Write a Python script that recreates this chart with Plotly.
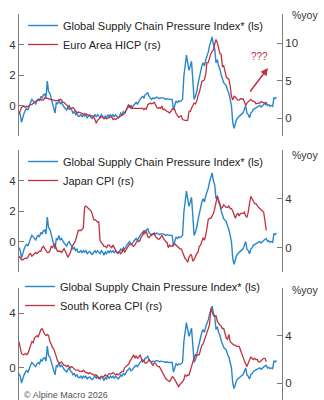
import pandas as pd
import plotly.graph_objects as go

# ---------------- data (monthly) ----------------
gscpi_start = "2010-01-01"   # GSCPI, advanced (plotted from Jan 2010)
gscpi = [
    -0.4, -0.6, -1.1, -0.7, -0.5, -0.3, -0.2, -0.3, 0.0, 0.2, 0.4, 0.3,
    0.2, 0.1, 0.3, 0.4, 0.3, 0.6, 0.5, 0.7, 0.75, 0.5, 1.6, 0.9,
    0.8, 0.5, 0.2, -0.1, -0.5, 0.2, 0.1, 0.4, 0.1, 0.2, 0.0, -0.1,
    -0.2, -0.3, -0.1, 0.0, -0.2, -0.3, -0.5, -0.4, -0.6, -0.5, -0.7, -0.7,
    -0.6, -0.75, -0.6, -0.7, -0.6, -0.8, -0.7, -0.65, -0.8, -0.85, -0.7, -0.6,
    -0.75, -0.6, -0.7, -0.8, -0.6, -0.7, -0.9, -0.7, -0.8, -0.6, -0.75, -0.6,
    -0.7, -0.6, -0.75, -0.6, -0.7, -0.8, -0.7, -0.5, -0.6, -0.4, -0.5, -0.3,
    -0.2, -0.1, 0.0, -0.2, -0.15, 0.0, 0.1, 0.2, 0.1, 0.3, 0.4, 0.5,
    0.6, 0.5, 0.7, 0.75, 0.85, 0.6, 0.5, 0.4, 0.5, 0.45, 0.5, 0.55,
    0.5, 0.45, 0.5, 0.5, 0.5, 0.45, 0.4, 0.45, 0.4, 0.4, 0.4, 0.4,
    -0.3, 0.0, 0.3, 0.2, 0.3, 0.25, 0.3, 0.4, 1.9, 2.6, 3.3, 2.8,
    2.3, 2.6, 2.9, 1.7, 0.4, 0.6, 0.9, 1.4, 1.9, 2.3, 2.6, 2.8,
    2.6, 3.0, 3.2, 3.5, 3.9, 4.3, 4.5, 4.0, 3.7, 2.8, 3.0, 2.6,
    2.4, 2.0, 1.7, 1.5, 1.4, 1.3, 1.0, 0.8, 0.4, 0.0, -1.1, -1.5,
    -1.2, -0.9, -0.8, -0.7, -0.6, -0.55, -0.5, -0.3, 0.0, -0.5, -0.6, -0.8,
    -0.5, -0.4, -0.25, -0.2, -0.15, -0.1, -0.05, 0.0, -0.1, 0.0, 0.1, 0.15,
    0.2, 0.0, 0.05, -0.05, 0.0, -0.05, 0.5, 0.45, 0.55,
]

cpi_start = "2010-01-01"
euro_hicp = [
    0.5, 0.9, 1.4, 1.5, 1.6, 1.4, 1.6, 1.5, 1.7, 1.8, 1.8, 2.0,
    2.1, 2.2, 2.4, 2.5, 2.4, 2.5, 2.4, 2.4, 2.7, 2.7, 2.7, 2.6,
    2.5, 2.5, 2.5, 2.4, 2.3, 2.3, 2.3, 2.4, 2.5, 2.4, 2.1, 2.1,
    1.9, 1.7, 1.6, 1.2, 1.3, 1.4, 1.4, 1.2, 1.0, 0.7, 0.8, 0.8,
    0.7, 0.6, 0.5, 0.6, 0.5, 0.5, 0.4, 0.4, 0.3, 0.3, 0.2, -0.2,
    -0.7, -0.3, -0.1, 0.0, 0.2, 0.1, 0.1, 0.0, -0.1, 0.0, 0.1, 0.1,
    0.2, -0.2, -0.1, -0.2, -0.1, 0.1, 0.2, 0.2, 0.4, 0.5, 0.6, 1.0,
    1.5, 1.8, 1.4, 1.7, 1.3, 1.3, 1.3, 1.4, 1.4, 1.3, 1.4, 1.3,
    1.3, 1.1, 1.3, 1.2, 1.8, 1.9, 2.0, 1.9, 2.0, 2.1, 1.8, 1.4,
    1.3, 1.4, 1.3, 1.6, 1.1, 1.2, 1.0, 0.9, 0.8, 0.7, 0.9, 1.2,
    1.3, 1.1, 0.6, 0.3, 0.1, 0.2, 0.3, -0.2, -0.3, -0.3, -0.3, -0.3,
    0.9, 0.9, 1.3, 1.6, 2.0, 1.9, 2.2, 3.0, 3.4, 4.1, 4.9, 5.0,
    5.1, 5.9, 7.4, 7.4, 8.1, 8.6, 8.9, 9.1, 9.9, 10.5, 10.1, 9.2,
    8.6, 8.5, 6.9, 7.0, 6.1, 5.5, 5.3, 5.2, 4.3, 2.9, 2.4, 2.9,
    2.8, 2.6, 2.4, 2.4, 2.6, 2.5, 2.6, 2.2, 1.7, 2.0, 2.2, 2.4,
    2.5, 2.3, 2.2, 2.2, 1.9, 2.0, 2.0, 2.0, 2.2, 2.1, 2.1, 2.0,
    1.7,
]

japan_cpi = [
    -0.7, -0.9, -1.0, -1.0, -0.9, -0.85, -0.9, -0.8, -0.55, -0.5, -0.7, -0.6,
    -0.5, -0.4, -0.5, -0.4, -0.3, -0.3, 0.0, 0.1, -0.1, -0.3, -0.4, -0.4,
    -0.3, 0.1, 0.0, 0.2, 0.3, -0.1, -0.3, -0.3, -0.3, -0.4, -0.2, -0.1,
    -0.3, -0.6, -0.8, -0.6, -0.4, 0.0, 0.2, 0.5, 0.6, 1.0, 1.4, 1.4,
    1.4, 1.5, 1.6, 3.3, 3.4, 3.3, 3.2, 3.1, 3.0, 2.7, 2.3, 2.3,
    2.2, 2.1, 2.1, 0.6, 0.4, 0.3, 0.1, 0.1, 0.0, 0.2, 0.2, 0.1,
    0.0, 0.2, 0.0, -0.2, -0.4, -0.4, -0.3, -0.5, -0.4, -0.1, -0.4, -0.2,
    0.0, 0.2, 0.3, 0.3, 0.2, 0.1, 0.2, 0.4, 0.6, 0.5, 0.6, 0.9,
    1.0, 1.4, 1.2, 1.3, 0.9, 0.8, 1.0, 1.1, 1.1, 1.2, 0.9, 0.8,
    0.7, 0.7, 0.9, 1.0, 0.8, 0.6, 0.5, 0.4, 0.0, 0.2, 0.1, 0.1,
    0.3, 0.3, 0.2, 0.1, 0.0, -0.1, -0.1, -0.4, -0.6, -0.9, -1.0, -1.2,
    -0.8, -0.6, -0.6, -1.1, -1.0, -0.7, -0.5, -0.4, 0.1, 0.2, 0.5, 0.8,
    0.6, 1.0, 1.6, 2.3, 2.4, 2.4, 2.6, 2.8, 3.2, 3.8, 4.2, 3.9,
    3.5, 3.2, 3.3, 3.5, 3.4, 3.3, 3.3, 3.4, 3.2, 3.2, 3.0, 2.7,
    2.4, 2.7, 2.8, 2.6, 2.8, 2.8, 2.8, 2.9, 2.6, 2.5, 2.9, 3.6,
    4.2, 4.0, 3.8, 3.6, 3.6, 3.4, 3.3, 3.2, 3.1, 3.0, 2.9, 2.2,
    1.4,
]

korea_cpi = [
    3.5, 3.0, 2.5, 2.4, 2.4, 2.5, 2.4, 2.5, 2.9, 3.2, 3.5, 3.4,
    3.8, 3.9, 4.0, 3.9, 4.2, 4.5, 4.6, 4.3, 4.1, 4.0, 4.1, 4.0,
    3.5, 3.3, 3.0, 2.9, 2.5, 2.1, 1.9, 1.7, 1.7, 1.8, 1.6, 1.5,
    1.5, 1.4, 1.5, 1.4, 1.3, 1.4, 1.3, 1.2, 1.1, 1.1, 1.1, 1.0,
    1.0, 1.0, 1.1, 1.0, 0.9, 0.9, 0.8, 0.9, 0.8, 0.8, 0.7, 0.7,
    0.7, 0.5, 0.4, 0.5, 0.55, 0.5, 0.6, 0.7, 0.6, 0.7, 0.8, 0.8,
    0.8, 0.9, 0.8, 0.7, 0.8, 0.7, 0.8, 0.9, 1.0, 1.0, 1.3, 1.4,
    1.5, 1.6, 1.8, 2.0, 2.2, 2.4, 2.1, 2.3, 2.1, 2.2, 2.4, 2.1,
    1.8, 1.9, 1.7, 1.7, 1.8, 2.0, 1.8, 1.6, 1.5, 1.7, 1.7, 1.5,
    1.4, 1.4, 1.2, 1.0, 0.8, 0.6, 0.4, 0.3, 0.2, 0.14, 0.3, 0.56,
    0.5, 0.3, 0.14, 0.0, -0.28, -0.1, 0.0, 0.14, 0.3, 0.7, 0.6, 0.7,
    0.7, 1.0, 1.4, 1.8, 2.1, 2.4, 2.3, 2.4, 2.4, 2.8, 3.2, 3.3,
    3.6, 3.9, 4.3, 4.5, 4.9, 6.3, 6.0, 5.7, 5.6, 5.7, 5.2, 5.0,
    4.9, 4.8, 4.6, 4.6, 4.2, 3.8, 3.7, 4.1, 3.5, 3.4, 3.3, 3.2,
    3.2, 3.1, 3.1, 3.1, 2.8, 2.4, 2.2, 1.9, 1.6, 1.4, 1.7, 2.0,
    2.2, 2.1, 2.0, 2.1, 2.0, 2.0, 1.8, 1.8, 1.9, 2.0, 2.1, 2.1,
    1.8,
]

legend_gscpi = "Global Supply Chain Pressure Index* (ls)"
panel_names = ["Euro Area HICP (rs)", "Japan CPI (rs)", "South Korea CPI (rs)"]
left_ticks = [[0, 2, 4], [0, 2, 4], [0, 4]]
right_ticks = [[0, 5, 10], [0, 4], [0, 4]]

# ---------------- styling ----------------
BLUE = "#2B87CC"
RED = "#C0323F"
AXIS = "#7b7b7b"
FONT = "Liberation Sans, Arial, sans-serif"

g_dates = pd.date_range(gscpi_start, periods=len(gscpi), freq="MS")
series = [euro_hicp, japan_cpi, korea_cpi]

fig = go.Figure()
for i, (name, vals) in enumerate(zip(panel_names, series)):
    xa = "x" if i == 0 else f"x{i+1}"
    yl = "y" if i == 0 else f"y{2*i+1}"
    yr = f"y{2*i+2}"
    lg = "legend" if i == 0 else f"legend{i+1}"
    c_dates = pd.date_range(cpi_start, periods=len(vals), freq="MS")
    fig.add_trace(go.Scatter(x=g_dates, y=gscpi, mode="lines", name=legend_gscpi,
                             line=dict(color=BLUE, width=1.4), xaxis=xa, yaxis=yl,
                             legend=lg))
    fig.add_trace(go.Scatter(x=c_dates, y=vals, mode="lines", name=name,
                             line=dict(color=RED, width=1.3), xaxis=xa, yaxis=yr,
                             legend=lg))

H = 400.0
def py(px):
    return 1 - px / H

def pxx(px):
    return (px - 19) / 263.0

domains = [[py(136), py(14)], [py(272), py(150)], [0.0, py(288)]]
left_ranges = [[-2, 6], [-2, 6], [-2.33, 5.82]]
right_ranges = [[-2.4, 13.9], [-2, 8], [-1.4, 8]]
xr = ["2010-01-01", "2027-01-08"]

common_y = dict(showgrid=False, zeroline=False, showline=True, linecolor=AXIS,
                linewidth=1, ticks="inside", ticklen=5, tickcolor=AXIS,
                tickfont=dict(family=FONT, size=11.5, color="#333333"))
layout = dict(
    width=324, height=400,
    margin=dict(l=19, r=42, t=0, b=0),
    paper_bgcolor="white", plot_bgcolor="white",
    font=dict(family=FONT),
)
for i in range(3):
    xk = "xaxis" if i == 0 else f"xaxis{i+1}"
    yl_name = "y" if i == 0 else f"y{2*i+1}"
    ylk = "yaxis" if i == 0 else f"yaxis{2*i+1}"
    yrk = f"yaxis{2*i+2}"
    layout[xk] = dict(domain=[0, 1], range=xr, visible=False, anchor=yl_name,
                      showgrid=False, zeroline=False)
    layout[ylk] = dict(common_y, domain=domains[i], range=left_ranges[i],
                       tickvals=left_ticks[i], side="left",
                       anchor="x" if i == 0 else f"x{i+1}")
    layout[yrk] = dict(common_y, domain=domains[i], range=right_ranges[i],
                       tickvals=right_ticks[i], side="right",
                       overlaying=yl_name, anchor="x" if i == 0 else f"x{i+1}")

legend_tops = [11, 147, 272]
legend_x = [pxx(23), pxx(23), pxx(20)]
for i in range(3):
    lk = "legend" if i == 0 else f"legend{i+1}"
    layout[lk] = dict(x=legend_x[i], xanchor="left", y=py(legend_tops[i]), yanchor="top",
                      bgcolor="rgba(0,0,0,0)", borderwidth=0,
                      font=dict(family=FONT, size=11, color="#222222"),
                      tracegroupgap=0, itemwidth=30)
fig.update_layout(**layout)

ann = []
for ypx in [15, 155, 290]:
    ann.append(dict(x=pxx(305), y=py(ypx), xref="paper", yref="paper",
                    xanchor="center", yanchor="middle",
                    text="%yoy", showarrow=False,
                    font=dict(family=FONT, size=10.5, color="#333333")))
ann.append(dict(x=pxx(268), y=py(68), xref="paper", yref="paper",
                ax=-19, ay=25, axref="pixel", ayref="pixel", text="",
                showarrow=True, arrowhead=2, arrowsize=1, arrowwidth=1.5,
                arrowcolor=RED))
ann.append(dict(x=pxx(259), y=py(56.5), xref="paper", yref="paper",
                xanchor="center", yanchor="middle",
                text="???", showarrow=False,
                font=dict(family=FONT, size=10, color=RED)))
ann.append(dict(x=pxx(22), y=py(388), xref="paper", yref="paper",
                xanchor="left", yanchor="top", text="© Alpine Macro 2026",
                showarrow=False, font=dict(family=FONT, size=9, color="#555555")))
fig.update_layout(annotations=ann)

fig.write_html("out.html")
